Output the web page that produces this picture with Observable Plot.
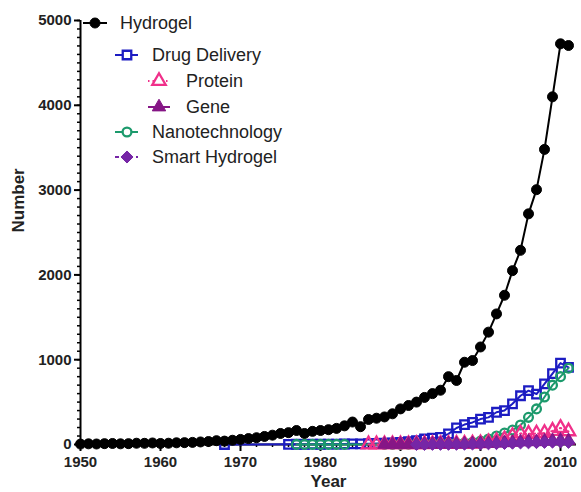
<!DOCTYPE html>
<html>
<head>
<meta charset="utf-8">
<script src="https://cdn.jsdelivr.net/npm/d3@7"></script>
<script src="https://cdn.jsdelivr.net/npm/@observablehq/plot@0.6"></script>
<style>
  html, body { margin: 0; padding: 0; background: #fff; }
  #chart { width: 581px; height: 492px; }
</style>
</head>
<body>
<div id="chart"></div>
<script>
// ---------- data ----------
const hydrogelYears = d3.range(1950, 2012);
const hydrogel = [5,8,6,10,12,8,10,15,14,18,
                  12,15,20,22,25,30,35,45,40,50,
                  60,70,80,95,110,130,140,165,130,155,
                  165,175,190,220,265,210,295,310,325,362,
                  420,460,500,555,600,640,800,755,970,990,
                  1150,1325,1540,1760,2050,2290,2720,3005,3480,4100,
                  4725,4705];

const drugYears = [1968, ...d3.range(1976, 2012)];
const drug = [0,
              2,3,2,4,3,5,4,6,8,7,10,12,15,20,
              25,35,45,65,75,85,125,195,235,260,
              300,320,380,400,480,575,635,595,715,835,
              960,910];

const proteinYears = d3.range(1986, 2012);
const protein = [1,1,2,2,3,3,4,4,5,6,6,8,9,10,
                 15,25,40,60,100,130,125,130,135,160,195,155];

const geneYears = d3.range(1988, 2012);
const gene = [1,1,1,2,2,3,3,4,5,5,6,8,
              10,12,15,20,25,30,35,32,40,45,50,45];

const nanoYears = [1977,1978,1979,1980,1981,1982,1983, ...d3.range(1988, 2012)];
const nano = [1,1,1,1,1,1,1,
              2,2,3,4,5,6,8,10,12,15,18,25,
              40,65,100,135,170,230,320,420,560,700,800,900];

const smartYears = d3.range(1992, 2012);
const smart = [1,1,2,2,3,3,4,5,
               6,8,10,12,15,18,20,22,25,28,30,25];

const seriesNames = ["Hydrogel","Drug Delivery","Protein","Gene","Nanotechnology","Smart Hydrogel"];
const yTicks = [0,1000,2000,3000,4000,5000];
const xTicks = [1950,1960,1970,1980,1990,2000,2010];

// ---------- styles ----------
const FONT = "'Liberation Sans', Arial, Helvetica, sans-serif";
const diamond = {
  draw(context, size) {
    const h = Math.sqrt(size / 2);
    context.moveTo(0, -h); context.lineTo(h, 0); context.lineTo(0, h); context.lineTo(-h, 0); context.closePath();
  }
};
const styles = {
  "Hydrogel":       {color: "#000000", symbol: "circle",   fill: true,  dash: null,  r: 5.0, level: 0},
  "Drug Delivery":  {color: "#1c1cc2", symbol: "square",   fill: false, dash: null,  r: 4.8, level: 1},
  "Protein":        {color: "#f0308a", symbol: "triangle", fill: false, dash: "1.5,3", r: 5.0, level: 2},
  "Gene":           {color: "#861686", symbol: "triangle", fill: true,  dash: null,  r: 5.0, level: 2},
  "Nanotechnology": {color: "#1c9a6c", symbol: "circle",   fill: false, dash: null,  r: 4.4, level: 1},
  "Smart Hydrogel": {color: "#7626a6", symbol: diamond,    fill: true,  dash: "4,3", r: 4.8, level: 1}
};

const toRows = (name, years, vals) => years.map((year, i) => ({name, year, value: vals[i]}));
const data = {
  "Hydrogel": toRows("Hydrogel", hydrogelYears, hydrogel),
  "Drug Delivery": toRows("Drug Delivery", drugYears, drug),
  "Protein": toRows("Protein", proteinYears, protein),
  "Gene": toRows("Gene", geneYears, gene),
  "Nanotechnology": toRows("Nanotechnology", nanoYears, nano),
  "Smart Hydrogel": toRows("Smart Hydrogel", smartYears, smart)
};

function seriesMarks(name) {
  const s = styles[name];
  return [
    Plot.line(data[name], {x: "year", y: "value", stroke: s.color, strokeWidth: 2, strokeDasharray: s.dash || undefined}),
    Plot.dot(data[name], {x: "year", y: "value", symbol: s.symbol, r: s.r,
      fill: s.fill ? s.color : "none", stroke: s.color, strokeWidth: s.fill ? 1 : 2.3})
  ];
}

const drawOrder = ["Drug Delivery","Nanotechnology","Protein","Gene","Smart Hydrogel","Hydrogel"];

const chart = Plot.plot({
  width: 581,
  height: 492,
  marginLeft: 80,
  marginRight: 5,
  marginTop: 20,
  marginBottom: 48,
  style: {fontFamily: FONT, background: "#fff", color: "#000", overflow: "visible"},
  x: {domain: [1950, 2012]},
  y: {domain: [0, 5000]},
  marks: [
    // minor ticks
    Plot.axisY(d3.range(0, 5001, 100), {tickSize: 3, strokeWidth: 1.5, text: null, label: null}),
    Plot.axisX(d3.range(1962, 2012, 2), {tickSize: 3, strokeWidth: 1.5, text: null, label: null}),
    // major ticks
    Plot.axisY({ticks: yTicks, tickSize: 6, tickPadding: 3, strokeWidth: 2, fontSize: 15, fontWeight: "bold", tickFormat: d => String(d), label: null, fill: "#222"}),
    Plot.axisX({ticks: xTicks, tickSize: 7, tickPadding: 5, strokeWidth: 2, fontSize: 15, fontWeight: "bold", tickFormat: d => String(d), label: null, fill: "#222"}),
    // axis lines
    Plot.ruleX([1950], {strokeWidth: 2}),
    Plot.ruleY([0], {strokeWidth: 2}),
    // axis titles
    Plot.text(["Number"], {frameAnchor: "left", dx: -62, rotate: -90, text: d => d, fontSize: 17, fontWeight: "bold", fill: "#222"}),
    Plot.text(["Year"], {frameAnchor: "bottom", dy: 37, text: d => d, fontSize: 17, fontWeight: "bold", lineAnchor: "middle", fill: "#222"}),
    ...drawOrder.flatMap(seriesMarks)
  ]
});

// ---------- legend (inside the frame, top-left) ----------
const svg = d3.select(chart);
const legend = svg.append("g").attr("font-family", FONT).attr("font-size", 18).attr("text-anchor", "start");
const levelGeom = [
  {x1: 83, x2: 107, sx: 95, tx: 120},
  {x1: 115, x2: 138, sx: 127, tx: 152},
  {x1: 148, x2: 170, sx: 159, tx: 186}
];
const rowY = [23, 55, 81, 107, 132, 157];
seriesNames.forEach((name, i) => {
  const s = styles[name];
  const g = levelGeom[s.level];
  const y = rowY[i];
  legend.append("line")
    .attr("x1", g.x1).attr("x2", g.x2).attr("y1", y).attr("y2", y)
    .attr("stroke", s.color).attr("stroke-width", 2)
    .attr("stroke-dasharray", s.dash || null);
  const symType = s.symbol === "circle" ? d3.symbolCircle
                : s.symbol === "square" ? d3.symbolSquare
                : s.symbol === "triangle" ? d3.symbolTriangle : s.symbol;
  legend.append("path")
    .attr("transform", `translate(${g.sx},${y})`)
    .attr("d", d3.symbol(symType, Math.PI * s.r * s.r)())
    .attr("fill", s.fill ? s.color : "#fff")
    .attr("stroke", s.color)
    .attr("stroke-width", s.fill ? 1 : 2.3);
  legend.append("text")
    .attr("x", g.tx).attr("y", y).attr("dy", "0.35em")
    .attr("text-anchor", "start")
    .attr("fill", "#222")
    .text(name);
});

document.getElementById("chart").appendChild(chart);
</script>
</body>
</html>
